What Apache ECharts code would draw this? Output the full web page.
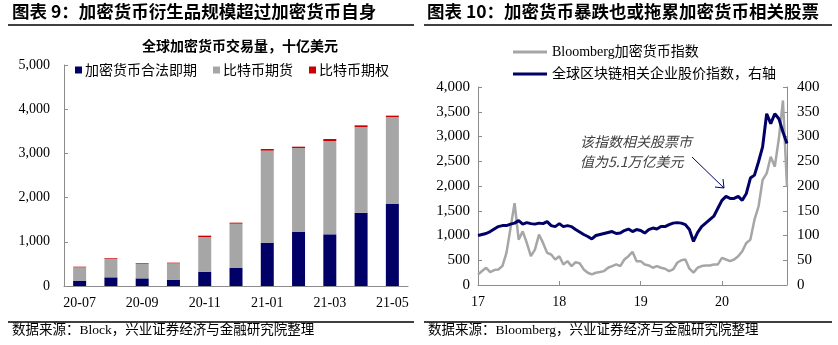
<!DOCTYPE html>
<html>
<head>
<meta charset="utf-8">
<script src="https://cdn.jsdelivr.net/npm/echarts@6/dist/echarts.min.js"></script>
<style>
html,body{margin:0;padding:0;background:#fff;}
#c{width:838px;height:345px;}
</style>
</head>
<body>
<div id="c"></div>
<script>
// ---------- Left chart data (billion USD) ----------
const months = ['20-07','20-08','20-09','20-10','20-11','20-12','21-01','21-02','21-03','21-04','21-05'];
const spotVals = [121, 196, 173, 143, 324, 415, 980, 1229, 1169, 1659, 1855];
const futuresVals = [301, 422, 332, 370, 784, 995, 2082, 1893, 2112, 1938, 1969];
const optionsVals = [15, 15, 15, 15, 31, 23, 38, 30, 45, 38, 30];

// ---------- Right chart data ----------
const yearTickLabels = ['17','18','19','20'];
const bloombergIdx = [214,281,348,261,301,315,382,649,1151,1653,917,1084,850,582,716,1017,850,649,616,515,582,415,482,382,460,440,315,248,214,248,261,281,348,382,415,382,515,582,670,482,482,415,395,348,382,348,328,281,315,449,500,515,330,250,348,382,395,395,415,415,549,515,482,515,582,683,850,917,1319,1586,2122,2256,2590,2390,2959,3728,1988];
const blockchainIdx = [100,102,104,108,113,118,120,120,123,125,130,123,126,124,123,125,124,128,120,118,124,118,120,118,112,107,102,98,93,100,102,104,106,108,104,105,110,113,108,112,110,105,112,115,113,118,118,122,125,126,125,122,112,88,106,118,125,132,139,155,171,179,175,175,179,171,185,216,222,249,279,346,326,346,336,309,286];
const periods = bloombergIdx.map((_, i) => 'p' + i);

const serif = "'Liberation Serif','Times New Roman','Noto Sans CJK SC',serif";
const navy = '#000066';
const grey = '#a6a6a6';
const red = '#cc0000';
const axisCol = '#8c8c8c';
const lineIcon = 'path://M0,0L34,0L34,3L0,3Z';

const chart = echarts.init(document.getElementById('c'));
chart.setOption({
  animation: false,
  backgroundColor: '#fff',
  textStyle: {fontFamily: serif},
  grid: [
    {left: 64, right: 430, top: 65, bottom: 59},
    {left: 478, right: 51, top: 87, bottom: 60}
  ],
  legend: [
    {
      data: ['加密货币合法即期','比特币期货','比特币期权'],
      left: 70, top: 58, icon: 'rect', itemWidth: 7, itemHeight: 7, itemGap: 16,
      textStyle: {fontSize: 14, color: '#000', fontFamily: "'Noto Sans CJK SC',sans-serif", padding: [0,0,0,-2]}
    },
    {
      data: [{name: 'Bloomberg加密货币指数', icon: lineIcon}, {name: '全球区块链相关企业股价指数，右轴', icon: lineIcon}],
      orient: 'vertical', left: 508, top: 40, itemWidth: 34, itemHeight: 3, itemGap: 8,
      textStyle: {fontSize: 14, color: '#000', fontFamily: serif}
    }
  ],
  xAxis: [
    {
      type: 'category', gridIndex: 0, data: months,
      axisLine: {lineStyle: {color: axisCol}},
      axisTick: {inside: true, length: 4, lineStyle: {color: axisCol}},
      axisLabel: {interval: 1, color: '#000', fontSize: 14, margin: 10, fontFamily: serif}
    },
    {
      type: 'category', gridIndex: 1, data: periods, boundaryGap: false,
      axisLine: {lineStyle: {color: axisCol}},
      axisTick: {inside: true, length: 4, interval: (i) => i % 20 === 0, lineStyle: {color: axisCol}},
      axisLabel: {interval: (i) => i % 20 === 0, color: '#000', fontSize: 14, margin: 10, fontFamily: serif,
        formatter: (v, i) => (i % 20 === 0 ? yearTickLabels[i / 20] : '')}
    }
  ],
  yAxis: [
    {
      type: 'value', gridIndex: 0, min: 0, max: 5000, interval: 1000,
      axisLine: {show: true, lineStyle: {color: axisCol}},
      axisTick: {show: true, inside: true, length: 4, lineStyle: {color: axisCol}},
      splitLine: {show: false},
      axisLabel: {color: '#000', fontSize: 14, margin: 14, fontFamily: serif,
        formatter: v => v.toLocaleString('en-US')}
    },
    {
      type: 'value', gridIndex: 1, min: 0, max: 4000, interval: 500,
      axisLine: {show: true, lineStyle: {color: axisCol}},
      axisTick: {show: true, inside: true, length: 4, lineStyle: {color: axisCol}},
      splitLine: {show: false},
      axisLabel: {color: '#000', fontSize: 15, margin: 8, fontFamily: serif,
        formatter: v => v.toLocaleString('en-US')}
    },
    {
      type: 'value', gridIndex: 1, min: 0, max: 400, interval: 50, position: 'right',
      axisLine: {show: true, lineStyle: {color: axisCol}},
      axisTick: {show: true, inside: true, length: 4, lineStyle: {color: axisCol}},
      splitLine: {show: false},
      axisLabel: {color: '#000', fontSize: 15, margin: 10, fontFamily: serif}
    }
  ],
  series: [
    {name: '加密货币合法即期', type: 'bar', stack: 'v', xAxisIndex: 0, yAxisIndex: 0, barWidth: 13,
      itemStyle: {color: navy}, data: spotVals},
    {name: '比特币期货', type: 'bar', stack: 'v', xAxisIndex: 0, yAxisIndex: 0, barWidth: 13,
      itemStyle: {color: grey}, data: futuresVals},
    {name: '比特币期权', type: 'bar', stack: 'v', xAxisIndex: 0, yAxisIndex: 0, barWidth: 13,
      itemStyle: {color: red}, data: optionsVals},
    {name: 'Bloomberg加密货币指数', type: 'line', xAxisIndex: 1, yAxisIndex: 1, symbol: 'none',
      lineStyle: {color: grey, width: 2.5}, itemStyle: {color: grey}, data: bloombergIdx},
    {name: '全球区块链相关企业股价指数，右轴', type: 'line', xAxisIndex: 1, yAxisIndex: 2, symbol: 'none',
      lineStyle: {color: navy, width: 3}, itemStyle: {color: navy}, data: blockchainIdx}
  ],
  graphic: [
    {type: 'text', left: 12, top: 3, style: {text: '图表 9：加密货币衍生品规模超过加密货币自身', font: "bold 17.5px 'Noto Sans CJK SC'", fill: '#000'}},
    {type: 'text', left: 427, top: 3, style: {text: '图表 10：加密货币暴跌也或拖累加密货币相关股票', font: "bold 17.5px 'Noto Sans CJK SC'", fill: '#000'}},
    {type: 'line', shape: {x1: 8, y1: 25, x2: 414, y2: 25}, style: {stroke: '#000', lineWidth: 1.5}},
    {type: 'line', shape: {x1: 424, y1: 25, x2: 832, y2: 25}, style: {stroke: '#000', lineWidth: 1.5}},
    {type: 'line', shape: {x1: 8, y1: 322, x2: 414, y2: 322}, style: {stroke: '#000', lineWidth: 1.5}},
    {type: 'line', shape: {x1: 424, y1: 322, x2: 832, y2: 322}, style: {stroke: '#000', lineWidth: 1.5}},
    {type: 'text', left: 142, top: 39, style: {text: '全球加密货币交易量，十亿美元', font: "bold 14px 'Noto Sans CJK SC'", fill: '#000'}},
    {type: 'text', left: 12, top: 324, style: {text: '数据来源：Block，兴业证券经济与金融研究院整理', font: "13.5px 'Liberation Serif','Noto Sans CJK SC'", fill: '#000'}},
    {type: 'text', left: 428, top: 324, style: {text: '数据来源：Bloomberg，兴业证券经济与金融研究院整理', font: "13.5px 'Liberation Serif','Noto Sans CJK SC'", fill: '#000'}},
    {type: 'text', left: 580, top: 132, style: {text: '该指数相关股票市\n值为5.1万亿美元', font: "italic 14px 'Noto Sans CJK SC'", fill: '#404040', lineHeight: 20}},
    {type: 'line', shape: {x1: 692, y1: 157, x2: 724, y2: 188}, style: {stroke: navy, lineWidth: 1}},
    {type: 'polyline', shape: {points: [[715, 187], [724, 188], [723, 179]]}, style: {stroke: navy, lineWidth: 1, fill: null}}
  ]
});
</script>
</body>
</html>
